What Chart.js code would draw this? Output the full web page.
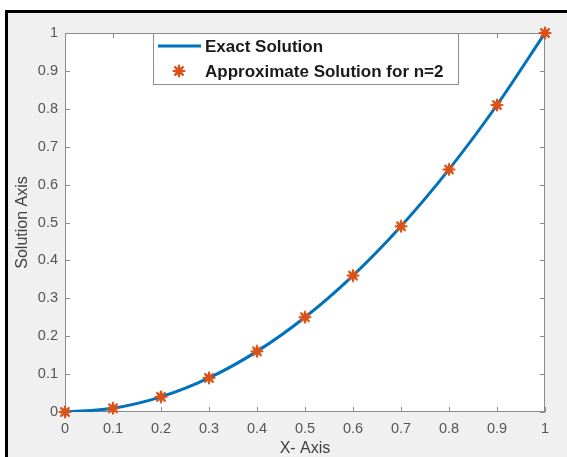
<!DOCTYPE html>
<html>
<head>
<meta charset="utf-8">
<script src="https://cdn.jsdelivr.net/npm/chart.js@4"></script>
<style>
  body { margin: 0; background: #fff; }
  #frame {
    position: absolute; left: 5px; top: 10px; width: 600px; height: 500px;
    border: 3px solid #000; background: #f0f0f0;
  }
  #chart { position: absolute; left: 0; top: 0; }
</style>
</head>
<body>
<div id="frame"></div>
<canvas id="chart" width="567" height="457"></canvas>
<script>
const xValues = [0, 0.1, 0.2, 0.3, 0.4, 0.5, 0.6, 0.7, 0.8, 0.9, 1];
const exactValues = [0, 0.01, 0.04, 0.09, 0.16, 0.25, 0.36, 0.49, 0.64, 0.81, 1];
const approxValues = [0, 0.01, 0.04, 0.09, 0.16, 0.25, 0.36, 0.49, 0.64, 0.81, 1];
const seriesLabels = ['Exact Solution', 'Approximate Solution for n=2'];

const blue = '#0072BD';
const orange = '#D95319';
const axisColor = '#8c8c8c';

function toPoints(ys) {
    return xValues.map((x, i) => ({ x: x, y: ys[i] }));
}

function fmt(v) {
    return String(Number(v.toFixed(1)));
}

// matlab '*' marker, a bit blurred like the screenshot
const marker = document.createElement('canvas');
marker.width = 14;
marker.height = 14;
(function () {
    const m = marker.getContext('2d');
    m.strokeStyle = orange;
    m.fillStyle = orange;
    m.lineWidth = 2.2;
    m.lineCap = 'round';
    m.beginPath();
    for (let k = 0; k < 4; k++) {
        const ang = k * Math.PI / 4;
        m.moveTo(7 - 5.5 * Math.cos(ang), 7 - 5.5 * Math.sin(ang));
        m.lineTo(7 + 5.5 * Math.cos(ang), 7 + 5.5 * Math.sin(ang));
    }
    m.stroke();
    m.beginPath();
    m.arc(7, 7, 3.8, 0, Math.PI * 2);
    m.fill();
})();

// white plot area, box with inward ticks, and the legend
const matlabAxes = {
    id: 'matlabAxes',
    beforeDatasetsDraw(chart) {
        const { ctx, chartArea: a } = chart;
        ctx.save();
        ctx.fillStyle = '#fff';
        ctx.fillRect(a.left, a.top, a.right - a.left, a.bottom - a.top);
        ctx.strokeStyle = axisColor;
        ctx.lineWidth = 1;
        ctx.strokeRect(a.left + 0.5, a.top + 0.5, a.right - a.left - 1, a.bottom - a.top - 1);
        const tl = 5;
        ctx.beginPath();
        chart.scales.x.ticks.forEach(t => {
            const px = Math.round(chart.scales.x.getPixelForValue(t.value)) + 0.5;
            ctx.moveTo(px, a.bottom); ctx.lineTo(px, a.bottom - tl);
            ctx.moveTo(px, a.top); ctx.lineTo(px, a.top + tl);
        });
        chart.scales.y.ticks.forEach(t => {
            const py = Math.round(chart.scales.y.getPixelForValue(t.value)) + 0.5;
            ctx.moveTo(a.left, py); ctx.lineTo(a.left + tl, py);
            ctx.moveTo(a.right, py); ctx.lineTo(a.right - tl, py);
        });
        ctx.stroke();
        ctx.restore();
    },
    afterDatasetsDraw(chart) {
        const { ctx, chartArea: a } = chart;
        ctx.save();
        const lx = a.left + 88, ly = a.top, lw = 305, lh = 51;
        ctx.fillStyle = '#fff';
        ctx.fillRect(lx, ly, lw, lh);
        ctx.strokeStyle = axisColor;
        ctx.lineWidth = 1;
        ctx.strokeRect(lx + 0.5, ly + 0.5, lw, lh);
        ctx.strokeStyle = blue;
        ctx.lineWidth = 3;
        ctx.beginPath();
        ctx.moveTo(lx + 5, ly + 13);
        ctx.lineTo(lx + 48, ly + 13);
        ctx.stroke();
        ctx.drawImage(marker, lx + 26 - 7, ly + 38 - 7);
        ctx.fillStyle = '#1a1a1a';
        ctx.font = 'bold 17px "Liberation Sans", Arial, sans-serif';
        ctx.textBaseline = 'middle';
        ctx.fillText(seriesLabels[0], lx + 52, ly + 14);
        ctx.fillText(seriesLabels[1], lx + 52, ly + 39);
        ctx.restore();
    }
};

new Chart(document.getElementById('chart'), {
    type: 'line',
    data: {
        datasets: [
            {
                label: seriesLabels[0],
                data: toPoints(exactValues),
                borderColor: blue,
                borderWidth: 3,
                pointRadius: 0,
                cubicInterpolationMode: 'monotone',
                fill: false,
                order: 2,
            },
            {
                label: seriesLabels[1],
                data: toPoints(approxValues),
                showLine: false,
                pointStyle: marker,
                pointRadius: 7,
                borderColor: orange,
                backgroundColor: orange,
                clip: false,
                order: 1,
            },
        ],
    },
    options: {
        responsive: false,
        animation: false,
        devicePixelRatio: 1,
        layout: { padding: { left: 0, right: 22, top: 33, bottom: 0 } },
        plugins: { legend: { display: false }, tooltip: { enabled: false } },
        scales: {
            x: {
                type: 'linear',
                min: 0,
                max: 1,
                grid: { display: false, drawTicks: false },
                border: { display: false },
                ticks: {
                    stepSize: 0.1,
                    padding: 8,
                    maxRotation: 0,
                    autoSkip: false,
                    color: '#555',
                    font: { family: '"Liberation Sans", Arial, sans-serif', size: 14.5 },
                    callback: fmt,
                },
                title: {
                    display: true,
                    text: 'X- Axis',
                    color: '#404040',
                    padding: { top: 0, bottom: 0 },
                    font: { family: '"Liberation Sans", Arial, sans-serif', size: 16, lineHeight: 1.0 },
                },
                afterFit(scale) { scale.height = 45; },
            },
            y: {
                min: 0,
                max: 1,
                grid: { display: false, drawTicks: false },
                border: { display: false },
                ticks: {
                    stepSize: 0.1,
                    padding: 7,
                    autoSkip: false,
                    color: '#555',
                    font: { family: '"Liberation Sans", Arial, sans-serif', size: 14.5 },
                    callback: fmt,
                },
                title: {
                    display: true,
                    text: 'Solution Axis',
                    color: '#404040',
                    padding: { top: 13, bottom: 0 },
                    font: { family: '"Liberation Sans", Arial, sans-serif', size: 16 },
                },
                afterFit(scale) { scale.width = 65; },
            },
        },
    },
    plugins: [matlabAxes],
});
</script>
</body>
</html>
